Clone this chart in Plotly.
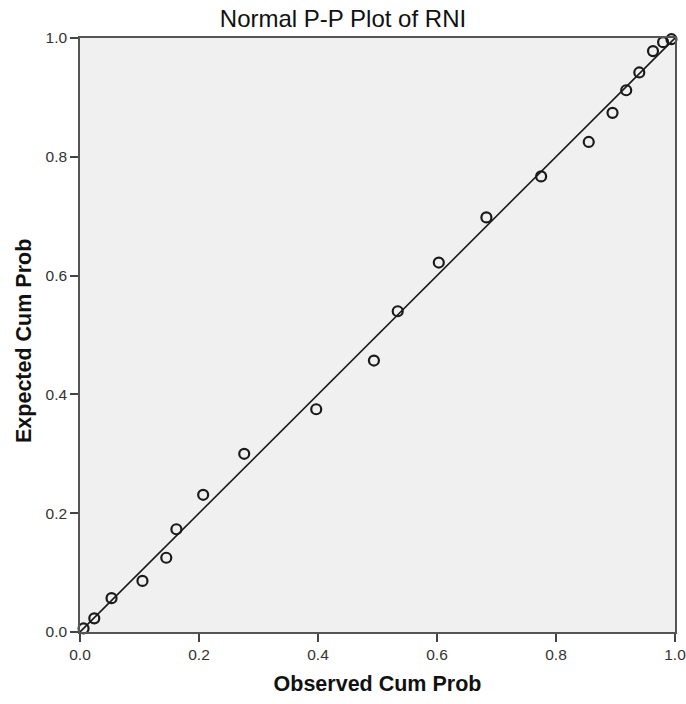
import plotly.graph_objects as go

observed = [0.006, 0.024, 0.053, 0.105, 0.145, 0.162, 0.207, 0.276, 0.397, 0.494,
            0.534, 0.603, 0.683, 0.775, 0.855, 0.895, 0.918, 0.940, 0.963, 0.980, 0.994]
expected = [0.006, 0.023, 0.057, 0.086, 0.125, 0.173, 0.231, 0.300, 0.375, 0.457,
            0.540, 0.622, 0.698, 0.767, 0.825, 0.874, 0.912, 0.942, 0.978, 0.993, 0.998]
ref_line = [0.0, 1.0]
tick_vals = [0.0, 0.2, 0.4, 0.6, 0.8, 1.0]
tick_text = ["0.0", "0.2", "0.4", "0.6", "0.8", "1.0"]

FONT = "Liberation Sans, Arial"

fig = go.Figure()
fig.add_trace(go.Scatter(x=ref_line, y=ref_line, mode="lines",
                         line=dict(color="#1a1a1a", width=1.6), hoverinfo="skip"))
fig.add_trace(go.Scatter(x=observed, y=expected, mode="markers",
                         marker=dict(symbol="circle-open", size=10, color="#1a1a1a",
                                     line=dict(color="#1a1a1a", width=2.2)),
                         cliponaxis=False))

axis_common = dict(range=[0, 1], tickvals=tick_vals, ticktext=tick_text,
                   showgrid=False, zeroline=False, showline=True, mirror=True,
                   linecolor="#555555", linewidth=1.5, ticks="outside", ticklen=8,
                   tickwidth=1.5, tickcolor="#444444", automargin=False,
                   ticklabeloverflow="allow",
                   tickfont=dict(family=FONT, size=15.5, color="#333333"))

fig.update_layout(
    width=686, height=704,
    margin=dict(l=80, r=11, t=38, b=72, autoexpand=False),
    paper_bgcolor="white", plot_bgcolor="#f0f0f0",
    showlegend=False,
    title=dict(text="Normal P-P Plot of RNI", x=0.5, xanchor="center",
               y=0.974, yanchor="middle",
               font=dict(family=FONT, size=24, color="#111111")),
    xaxis=dict(axis_common,
               title=dict(text="<b>Observed Cum Prob</b>", standoff=14,
                          font=dict(family=FONT, size=21.5, color="#111111"))),
    yaxis=dict(axis_common),
    annotations=[dict(text="<b>Expected Cum Prob</b>", textangle=-90,
                      xref="paper", yref="paper", x=-0.094, y=0.49,
                      xanchor="center", yanchor="middle", showarrow=False,
                      font=dict(family=FONT, size=21.5, color="#111111"))],
)

fig.write_html("out.html")
